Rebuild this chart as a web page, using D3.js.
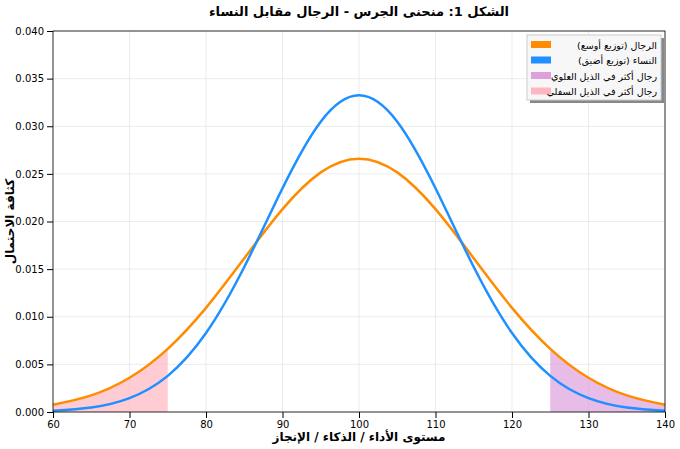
<!DOCTYPE html>
<html><head><meta charset="utf-8">
<script src="https://cdn.jsdelivr.net/npm/d3@7"></script>
<style>body{margin:0;background:#fff}text{font-family:"DejaVu Sans",sans-serif}</style>
</head><body><svg id="c" width="680" height="449"></svg>
<script>
const xs = [60,65,70,75,80,85,90,95,100,105,110,115,120,125,130,135,140];
const men = [0.000760,0.001748,0.003599,0.006632,0.010934,0.016131,0.021297,0.025159,0.026596,0.025159,0.021297,0.016131,0.010934,0.006632,0.003599,0.001748,0.000760];
const women = [0.000129,0.000473,0.001461,0.003796,0.008290,0.015221,0.023493,0.030481,0.033245,0.030481,0.023493,0.015221,0.008290,0.003796,0.001461,0.000473,0.000129];
const xTicks = [60,70,80,90,100,110,120,130,140];
const yTicks = [0,0.005,0.010,0.015,0.020,0.025,0.030,0.035,0.040];
const lowerTail = [60,75], upperTail = [125,140];
const legendLabels = ["الرجال (توزيع أوسع)","النساء (توزيع أضيق)","رجال أكثر في الذيل العلوي","رجال أكثر في الذيل السفلي"];
const legendColors = ["#ff8c00","#1e90ff","#dda0dd","#ffb6c1"];

const svg = d3.select("#c");
const L=53,R=665,T=31,B=412;
const x = d3.scaleLinear().domain([60,140]).range([L,R]);
const y = d3.scaleLinear().domain([0,0.04]).range([B,T]);
const pts = (arr)=>xs.map((v,i)=>[v,arr[i]]);
const grid = svg.append("g");
xTicks.forEach(t=>grid.append("line").attr("x1",x(t)).attr("x2",x(t)).attr("y1",T).attr("y2",B).attr("stroke","#e6e6e6").attr("stroke-width",0.8));
yTicks.forEach(t=>grid.append("line").attr("x1",L).attr("x2",R).attr("y1",y(t)).attr("y2",y(t)).attr("stroke","#e6e6e6").attr("stroke-width",0.8));
const area = d3.area().x(d=>x(d[0])).y0(y(0)).y1(d=>y(d[1])).curve(d3.curveNatural);
const tail=(r)=>pts(men).filter(d=>d[0]>=r[0]&&d[0]<=r[1]);
svg.append("path").attr("d",area(tail(upperTail))).attr("fill",legendColors[2]).attr("opacity",0.7);
svg.append("path").attr("d",area(tail(lowerTail))).attr("fill",legendColors[3]).attr("opacity",0.7);
const line = d3.line().x(d=>x(d[0])).y(d=>y(d[1])).curve(d3.curveNatural);
svg.append("path").attr("d",line(pts(men))).attr("fill","none").attr("stroke",legendColors[0]).attr("stroke-width",2.5);
svg.append("path").attr("d",line(pts(women))).attr("fill","none").attr("stroke",legendColors[1]).attr("stroke-width",2.5);
svg.append("g").attr("transform",`translate(0,${B})`).call(d3.axisBottom(x).tickValues(xTicks).tickSizeOuter(0)).attr("font-size",10).attr("font-family","DejaVu Sans");
svg.append("g").attr("transform",`translate(${L},0)`).call(d3.axisLeft(y).tickValues(yTicks).tickFormat(d3.format(".3f")).tickSizeOuter(0)).attr("font-size",10).attr("font-family","DejaVu Sans");
svg.append("rect").attr("x",L).attr("y",T).attr("width",R-L).attr("height",B-T).attr("fill","none").attr("stroke","#000").attr("stroke-width",0.8);
svg.selectAll(".domain").remove();
svg.append("text").attr("x",(L+R)/2).attr("y",16).attr("text-anchor","middle").attr("font-size",13).attr("font-weight","bold").attr("direction","rtl").text("الشكل 1: منحنى الجرس - الرجال مقابل النساء");
svg.append("text").attr("x",(L+R)/2).attr("y",441).attr("text-anchor","middle").attr("font-size",12).attr("font-weight","bold").attr("direction","rtl").text("مستوى الأداء / الذكاء / الإنجاز");
svg.append("text").attr("transform",`translate(14,${(T+B)/2}) rotate(-90)`).attr("text-anchor","middle").attr("font-size",12).attr("font-weight","bold").attr("direction","rtl").text("كثافة الاحتمال");
const lg = svg.append("g");
lg.append("rect").attr("x",530).attr("y",38).attr("width",134).attr("height",65).attr("fill","#888");
lg.append("rect").attr("x",527).attr("y",35).attr("width",134).attr("height",65).attr("fill","#f7f7f7").attr("stroke","#ccc");
legendLabels.forEach((s,i)=>{
  const yy=45+i*15.5;
  lg.append("rect").attr("x",531).attr("y",yy-4).attr("width",20).attr("height",7).attr("fill",legendColors[i]);
  lg.append("text").attr("x",657).attr("y",yy+3.5).attr("text-anchor","start").attr("direction","rtl").attr("font-size",9.5).text(s);
});
</script></body></html>
